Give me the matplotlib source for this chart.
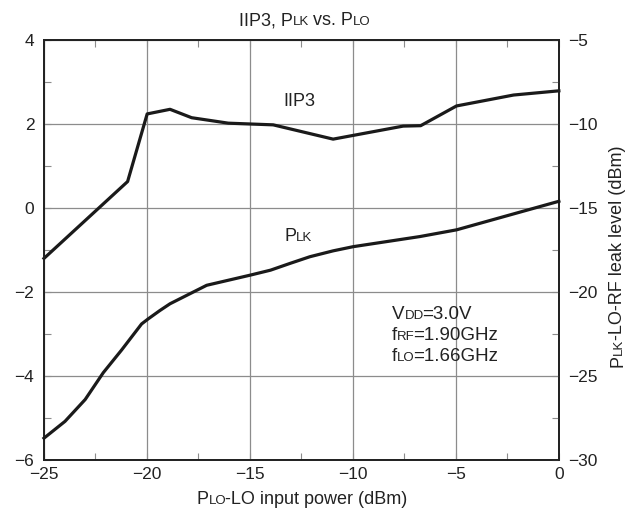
import matplotlib
matplotlib.use("Agg")
import matplotlib.pyplot as plt
from matplotlib.ticker import MultipleLocator
from matplotlib.transforms import IdentityTransform

plt.rcParams["font.family"] = ["Liberation Sans", "DejaVu Sans"]

# IIP3 (left axis, dBm) vs LO input power
iip3_x = [-25, -20.94, -19.99, -18.88, -17.83, -16.05, -13.87, -10.96, -7.56, -6.71, -4.97, -2.2, 0]
iip3_y = [-1.2, 0.63, 2.24, 2.35, 2.15, 2.02, 1.98, 1.64, 1.95, 1.96, 2.43, 2.69, 2.79]

# LO-RF leak level (right axis, dBm)
plk_x = [-25, -23.98, -23.0, -22.12, -21.23, -20.26, -19.94, -19.37, -18.88, -17.1, -15, -14,
         -13.06, -12.09, -10.96, -9.98, -6.75, -4.97, -2.05, 0]
plk_y = [-28.7, -27.7, -26.4, -24.8, -23.45, -21.9, -21.6, -21.1, -20.7, -19.6, -19.0, -18.7,
         -18.3, -17.9, -17.55, -17.3, -16.7, -16.3, -15.3, -14.6]

BIG = 13
SMALL = 9.5
TICK = 12.5
ANN = 13.5


def rich(fig, x, y, parts, rotation=0, ha="left"):
    # x, y in pixels from top-left; parts = [(text, size), ...] on one baseline
    r = fig.canvas.get_renderer()
    H = fig.bbox.height
    items = []
    total = 0
    for s, size in parts:
        t = fig.text(0, 0, s, fontsize=size, transform=IdentityTransform(),
                     rotation=rotation, rotation_mode="anchor",
                     ha="left", va="baseline", color="#222222")
        bb = t.get_window_extent(r)
        adv = bb.height if rotation == 90 else bb.width
        if size == SMALL:
            adv -= 1.5  # tighten after small caps
        items.append((t, adv))
        total += adv
    pos = 0 if ha == "left" else -total / 2
    for t, adv in items:
        if rotation == 90:
            t.set_position((x, H - y + pos))
        else:
            t.set_position((x + pos, H - y))
        pos += adv


fig = plt.figure(figsize=(6.44, 5.11), dpi=100)
ax = fig.add_axes([0.0683, 0.0998, 0.7995, 0.8219])
ax2 = ax.twinx()

ax.plot(iip3_x, iip3_y, color="#1a1a1a", lw=2.3, clip_on=False, zorder=3)
ax2.plot(plk_x, plk_y, color="#1a1a1a", lw=2.3, clip_on=False, zorder=3)

ax.set_xlim(-25, 0)
ax.set_ylim(-6, 4)
ax2.set_ylim(-30, -5)

ax.xaxis.set_major_locator(MultipleLocator(5))
ax.xaxis.set_minor_locator(MultipleLocator(2.5))
ax.yaxis.set_major_locator(MultipleLocator(2))
ax.yaxis.set_minor_locator(MultipleLocator(1))
ax2.yaxis.set_major_locator(MultipleLocator(5))
ax2.yaxis.set_minor_locator(MultipleLocator(2.5))

ax.grid(True, which="major", color="#8c8c8c", lw=0.9)
ax.tick_params(which="both", direction="in", top=True, right=False, labelsize=TICK,
               length=5, width=0.8, color="#8c8c8c", labelcolor="#222222")
ax.tick_params(axis="x", pad=5)
ax.tick_params(axis="y", pad=7)
ax2.tick_params(which="both", direction="in", labelsize=TICK, pad=7, length=5,
                width=0.8, color="#8c8c8c", labelcolor="#222222")

for a in (ax, ax2):
    for sp in a.spines.values():
        sp.set_linewidth(1.3)
        sp.set_color("#222222")

rich(fig, 304, 25, [("IIP3, P", BIG), ("LK", SMALL), (" vs. P", BIG), ("LO", SMALL)], ha="center")
rich(fig, 302, 504, [("P", BIG), ("LO", SMALL), ("-LO input power (dBm)", BIG)], ha="center")
rich(fig, 622, 256, [("P", BIG), ("LK", SMALL), ("-LO-RF leak level (dBm)", BIG)],
     rotation=90, ha="center")

rich(fig, 283, 106, [("IIP3", BIG)])
rich(fig, 284, 241, [("P", BIG), ("LK", SMALL)])

rich(fig, 392, 319, [("V", ANN), ("DD", SMALL), ("=3.0V", ANN)])
rich(fig, 392, 340, [("f", ANN), ("RF", SMALL), ("=1.90GHz", ANN)])
rich(fig, 392, 361, [("f", ANN), ("LO", SMALL), ("=1.66GHz", ANN)])

fig.savefig("out.png", dpi=100)
